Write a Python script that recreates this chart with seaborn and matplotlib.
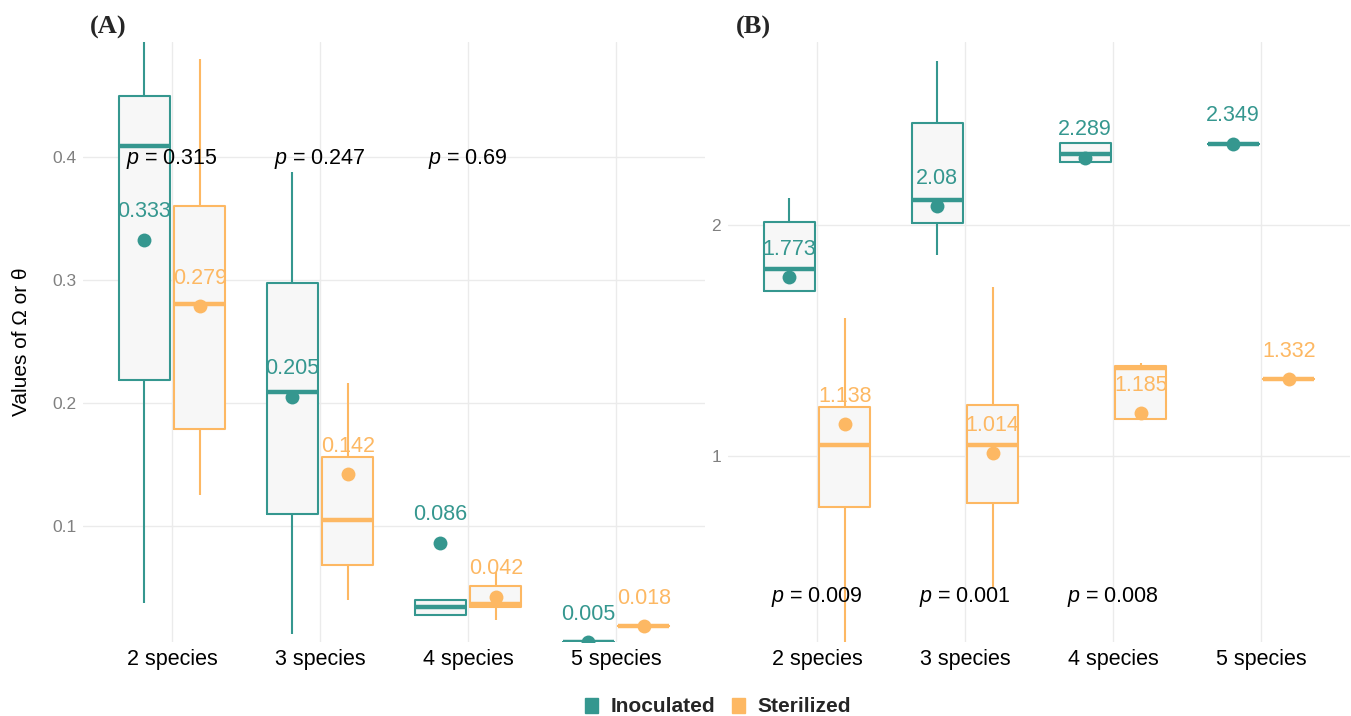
"""
Boxplots of Omega / theta by community size, inoculated vs sterilized soil.
Panel A and panel B, means printed over each box, p-values per group.
"""

import numpy as np
import pandas as pd
import matplotlib
matplotlib.use("Agg")
import matplotlib.pyplot as plt
from matplotlib.patches import Patch
import seaborn as sns


# ── Data ───────────────────────────────────────────────────────────────────────
SPECIES    = ["2 species", "3 species", "4 species", "5 species"]
TREATMENTS = ["Inoculated", "Sterilized"]

# box stats per species: low whisker, q1, median, q3, high whisker
A_INOC_BOX = [
    [0.0367, 0.219, 0.4095, 0.4503, 0.560],
    [0.0114, 0.1096, 0.2087, 0.2976, 0.3878],
    [0.0272, 0.0272, 0.0340, 0.0394, 0.0394],
    [0.005, 0.005, 0.005, 0.005, 0.005],
]
A_STER_BOX = [
    [0.1249, 0.1788, 0.2808, 0.360, 0.480],
    [0.0394, 0.068, 0.1045, 0.1556, 0.2163],
    [0.0231, 0.034, 0.0362, 0.0509, 0.0625],
    [0.018, 0.018, 0.018, 0.018, 0.018],
]
A_INOC_MEAN = [0.333, 0.205, 0.086, 0.005]
A_STER_MEAN = [0.279, 0.142, 0.042, 0.018]
A_PVALS     = ["0.315", "0.247", "0.69", None]

B_INOC_BOX = [
    [1.712, 1.712, 1.810, 2.009, 2.114],
    [1.867, 2.006, 2.106, 2.439, 2.704],
    [2.271, 2.271, 2.304, 2.351, 2.351],
    [2.349, 2.349, 2.349, 2.349, 2.349],
]
B_STER_BOX = [
    [0.10, 0.780, 1.048, 1.213, 1.598],
    [0.438, 0.799, 1.051, 1.223, 1.732],
    [1.163, 1.163, 1.382, 1.389, 1.401],
    [1.332, 1.332, 1.332, 1.332, 1.332],
]
B_INOC_MEAN = [1.773, 2.08, 2.289, 2.349]
B_STER_MEAN = [1.138, 1.014, 1.185, 1.332]
B_PVALS     = ["0.009", "0.001", "0.008", None]

P_LEVEL = 0.4   # y value where the p-values sit

# ── Style ──────────────────────────────────────────────────────────────────────
COLORS   = {"Inoculated": "#35978f", "Sterilized": "#fdb863"}
BOX_FILL = "#f7f7f7"
GRID     = "#ebebeb"
DODGE    = 0.375

sns.set_theme(style="white")
plt.rcParams["font.family"] = ["Liberation Sans", "DejaVu Sans"]
plt.rcParams["mathtext.fontset"] = "custom"
plt.rcParams["mathtext.it"] = "Liberation Sans:italic"
plt.rcParams["mathtext.rm"] = "Liberation Sans"


def long_box_df(inoc_box, ster_box):
    rows = []
    for trt, boxes in (("Inoculated", inoc_box), ("Sterilized", ster_box)):
        for sp, stats in zip(SPECIES, boxes):
            rows += [(sp, trt, v) for v in stats]
    return pd.DataFrame(rows, columns=["species", "treatment", "value"])


def mean_df(inoc_mean, ster_mean):
    return pd.DataFrame({
        "species": SPECIES * 2,
        "treatment": ["Inoculated"] * 4 + ["Sterilized"] * 4,
        "value": list(inoc_mean) + list(ster_mean),
    })


def draw_panel(ax, inoc_box, ster_box, inoc_mean, ster_mean, pvals, ylim, yticks):
    df = long_box_df(inoc_box, ster_box)
    common = dict(data=df, x="species", y="value", hue="treatment",
                  order=SPECIES, hue_order=TREATMENTS, width=0.75, gap=0.08,
                  whis=(0, 100), showfliers=False, legend=False, ax=ax)
    # light fill underneath, coloured outlines on top
    sns.boxplot(palette={t: BOX_FILL for t in TREATMENTS}, linecolor=BOX_FILL,
                linewidth=0, fill=True, showcaps=False, **common)
    sns.boxplot(palette=COLORS, fill=False, linewidth=1.5, showcaps=False,
                medianprops={"linewidth": 3.2}, **common)

    md = mean_df(inoc_mean, ster_mean)
    sns.pointplot(data=md, x="species", y="value", hue="treatment",
                  order=SPECIES, hue_order=TREATMENTS, palette=COLORS,
                  dodge=DODGE, linestyle="none", errorbar=None, markers="o",
                  markersize=10, markeredgewidth=0, legend=False, zorder=5, ax=ax)

    for j, (trt, means) in enumerate((("Inoculated", inoc_mean), ("Sterilized", ster_mean))):
        off = -DODGE / 2 if j == 0 else DODGE / 2
        for i, m in enumerate(means):
            ax.annotate(f"{m:g}", (i + off, m), xytext=(0, 16), textcoords="offset points",
                        ha="center", va="baseline", fontsize=15.5, color=COLORS[trt], zorder=6)

    for i, p in enumerate(pvals):
        if p is None:
            continue
        ax.annotate(f"$p$ = {p}", (i, P_LEVEL), xytext=(0, -5), textcoords="offset points",
                    ha="center", va="baseline", fontsize=15.5, color="black", zorder=6)

    ax.set_xlim(-0.6, 3.6)
    ax.set_ylim(*ylim)
    ax.set_yticks(yticks)
    ax.set_yticklabels([f"{t:g}" for t in yticks])
    ax.set_xlabel("")
    ax.set_ylabel("")
    ax.grid(True, axis="both", color=GRID, lw=1.0, zorder=0)
    ax.set_axisbelow(True)
    for s in ax.spines.values():
        s.set_visible(False)
    ax.tick_params(axis="x", length=0, pad=5, labelsize=15.5, labelcolor="black")
    ax.tick_params(axis="y", length=0, pad=5, labelsize=12.5, labelcolor="#808080")


fig = plt.figure(figsize=(13.51, 7.16), dpi=100)
axA = fig.add_axes([0.0616, 0.1034, 0.4601, 0.838])
axB = fig.add_axes([0.5390, 0.1034, 0.4601, 0.838])

draw_panel(axA, A_INOC_BOX, A_STER_BOX, A_INOC_MEAN, A_STER_MEAN, A_PVALS,
           (0.0051, 0.4941), [0.1, 0.2, 0.3, 0.4])
draw_panel(axB, B_INOC_BOX, B_STER_BOX, B_INOC_MEAN, B_STER_MEAN, B_PVALS,
           (0.199, 2.788), [1, 2])

axA.set_ylabel("Values of Ω or θ", fontsize=15, color="black")
axA.yaxis.set_label_coords(-0.084, 0.5)

fig.text(108 / 1351, 1 - 27 / 716, "(A)", family="Liberation Serif", weight="bold",
         fontsize=19, ha="center", va="center")
fig.text(753 / 1351, 1 - 27 / 716, "(B)", family="Liberation Serif", weight="bold",
         fontsize=19, ha="center", va="center")

handles = [Patch(facecolor=COLORS[t], edgecolor=COLORS[t], label=t) for t in TREATMENTS]
fig.legend(handles=handles, loc="center", bbox_to_anchor=(718 / 1351, 9 / 716),
           ncol=2, frameon=False, prop={"weight": "bold", "size": 15},
           handlelength=0.62, handleheight=0.7, handletextpad=0.62, columnspacing=0.8,
           borderaxespad=0)

fig.savefig("out.png", dpi=100)
plt.close(fig)
